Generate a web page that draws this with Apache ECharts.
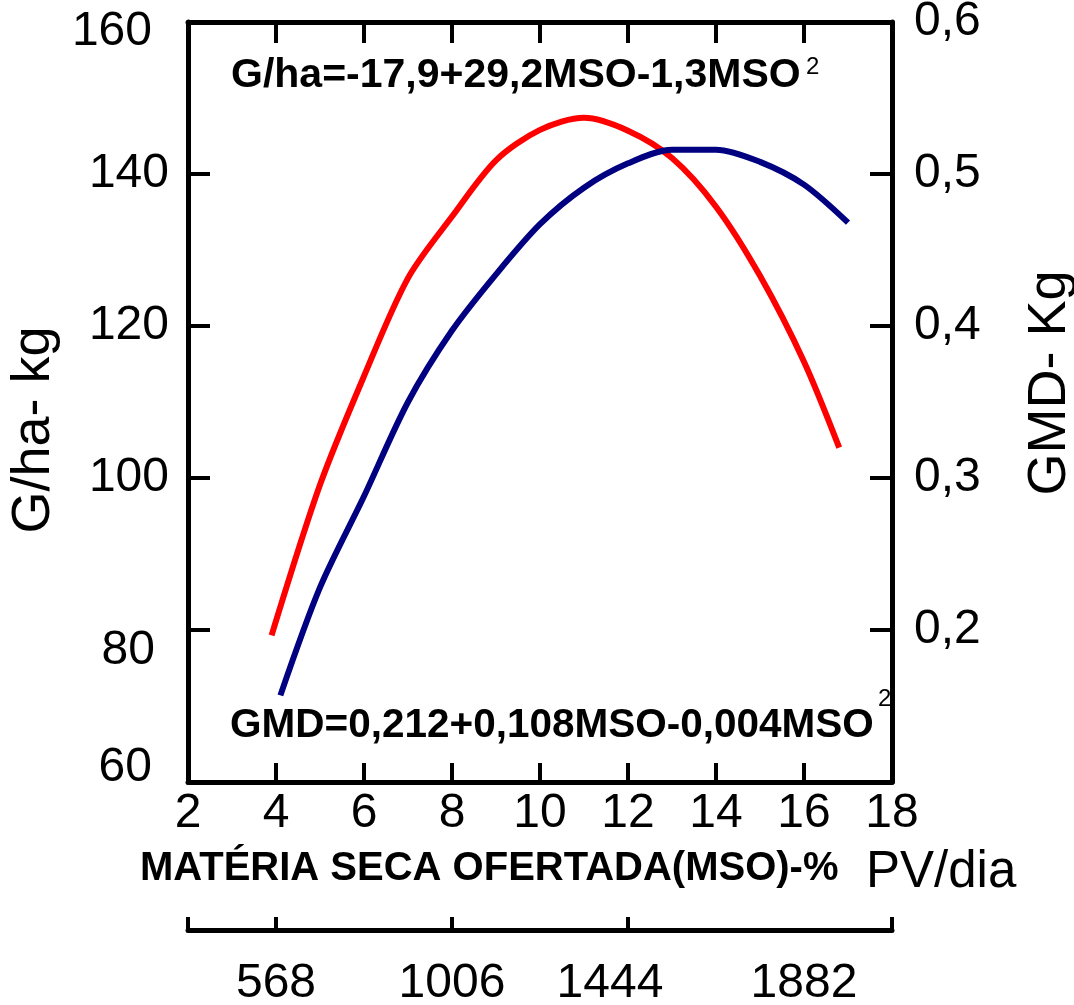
<!DOCTYPE html>
<html>
<head>
<meta charset="utf-8">
<script src="https://cdn.jsdelivr.net/npm/echarts@6/dist/echarts.min.js"></script>
<style>
  html, body { margin: 0; padding: 0; background: #fff; }
  #chart { width: 1074px; height: 1005px; }
</style>
</head>
<body>
<div id="chart"></div>
<script>
// G/ha (left axis)
const msoGha = [3.9, 5, 6, 7, 8, 9, 10, 11, 12, 13, 14, 15, 16, 16.8];
const gPerHa = [79.3, 99.1, 113.4, 126.3, 134.4, 141.8, 145.8, 147.4, 145.7, 142.1, 135.7, 126.6, 115.3, 104.0];

// GMD (right axis)
const msoGmd = [4.1, 5, 6, 7, 8, 9, 10, 11, 12, 13, 14, 15, 16, 17];
const gmd = [0.157, 0.228, 0.288, 0.350, 0.397, 0.434, 0.467, 0.491, 0.507, 0.516, 0.516, 0.508, 0.493, 0.468];

// second scale under the x axis (kg), evenly spaced with MSO
const kgLabels = [568, 1006, 1444, 1882];
const kgTicks = [349, 568, 1006, 1444, 2101];
const kgMin = 349, kgMax = 2101;

const FONT = "'Liberation Sans', Arial, sans-serif";
const black = "#000";

// a few labels sit off their ticks in the original
const leftLabelShift = { 160: "a", 80: "b", 60: "c" };
const leftRich = {
  n: { fontSize: 48, fontFamily: FONT, color: black },
  a: { fontSize: 48, fontFamily: FONT, color: black, padding: [20, 17, 0, 0] },
  b: { fontSize: 48, fontFamily: FONT, color: black, padding: [42, 14, 0, 0] },
  c: { fontSize: 48, fontFamily: FONT, color: black, padding: [0, 17, 28, 0] }
};
const kgLabelShift = { 1444: "p" };
const kgRich = {
  n: { fontSize: 48, fontFamily: FONT, color: black },
  p: { fontSize: 48, fontFamily: FONT, color: black, padding: [0, 36, 0, 0] }
};

const axisLine = { show: true, lineStyle: { color: black, width: 5 } };

const chart = echarts.init(document.getElementById("chart"), null, { renderer: "canvas" });

chart.setOption({
  animation: false,
  backgroundColor: "#fff",
  grid: { left: 188, top: 22, right: 182, bottom: 223, containLabel: false, outerBoundsMode: "none" },
  xAxis: [
    {
      type: "value", position: "bottom", min: 2, max: 18, interval: 2,
      axisLine: axisLine,
      axisTick: { inside: true, length: 19, lineStyle: { color: black, width: 4 } },
      axisLabel: { margin: 8, fontSize: 48, fontFamily: FONT, color: black },
      splitLine: { show: false }
    },
    {
      type: "value", position: "top", min: 2, max: 18, interval: 2,
      axisLine: axisLine,
      axisTick: { inside: true, length: 21, lineStyle: { color: black, width: 4 } },
      axisLabel: { show: false },
      splitLine: { show: false }
    },
    {
      type: "value", position: "bottom", offset: 148, min: kgMin, max: kgMax,
      axisLine: axisLine,
      axisTick: { inside: true, length: 13, customValues: kgTicks, lineStyle: { color: black, width: 4 } },
      axisLabel: {
        margin: 30, fontSize: 48, fontFamily: FONT, color: black, customValues: kgLabels,
        formatter: v => `{${kgLabelShift[v] || "n"}|${v}}`,
        rich: kgRich
      },
      splitLine: { show: false }
    }
  ],
  yAxis: [
    {
      type: "value", position: "left", min: 60, max: 160, interval: 20,
      name: "G/ha- kg", nameLocation: "middle", nameRotate: 90, nameGap: 126,
      nameTextStyle: { fontSize: 54, fontFamily: FONT, color: black, padding: [0, 56, 0, 0] },
      axisLine: axisLine,
      axisTick: { inside: true, length: 22, lineStyle: { color: black, width: 4 } },
      axisLabel: {
        margin: 19, fontSize: 48, fontFamily: FONT, color: black,
        formatter: v => `{${leftLabelShift[v] || "n"}|${v}}`,
        rich: leftRich
      },
      splitLine: { show: false }
    },
    {
      type: "value", position: "right", min: 0.1, max: 0.6, interval: 0.1,
      name: "GMD- Kg", nameLocation: "middle", nameRotate: 90, nameGap: 131,
      nameTextStyle: { fontSize: 54, fontFamily: FONT, color: black, padding: [0, 0, 0, 38] },
      axisLine: axisLine,
      axisTick: { inside: true, length: 22, lineStyle: { color: black, width: 4 } },
      axisLabel: {
        margin: 22, fontSize: 48, fontFamily: FONT, color: black, showMinLabel: false,
        formatter: v => v.toFixed(1).replace(".", ",")
      },
      splitLine: { show: false }
    }
  ],
  series: [
    {
      name: "G/ha", type: "line", xAxisIndex: 0, yAxisIndex: 0,
      data: msoGha.map((x, i) => [x, gPerHa[i]]),
      showSymbol: false, smooth: 0.3,
      lineStyle: { color: "#ff0000", width: 6 }, itemStyle: { color: "#ff0000" }
    },
    {
      name: "GMD", type: "line", xAxisIndex: 0, yAxisIndex: 1,
      data: msoGmd.map((x, i) => [x, gmd[i]]),
      showSymbol: false, smooth: 0.3,
      lineStyle: { color: "#000080", width: 6 }, itemStyle: { color: "#000080" }
    }
  ],
  graphic: [
    { type: "text", left: 231, top: 55,
      style: { text: "G/ha=-17,9+29,2MSO-1,3MSO", font: `bold 41px ${FONT}`, fill: black } },
    { type: "text", left: 806, top: 55,
      style: { text: "2", font: `24px ${FONT}`, fill: black } },
    { type: "text", left: 230, top: 705,
      style: { text: "GMD=0,212+0,108MSO-0,004MSO", font: `bold 40.5px ${FONT}`, fill: black } },
    { type: "text", left: 878, top: 687,
      style: { text: "2", font: `24px ${FONT}`, fill: black } },
    { type: "text", left: 140, top: 849,
      style: { text: "MATÉRIA SECA OFERTADA(MSO)-%", font: `bold 40px ${FONT}`, fill: black } },
    { type: "text", left: 866, top: 847,
      style: { text: "PV/dia", font: `51px ${FONT}`, fill: black } }
  ]
});
</script>
</body>
</html>
